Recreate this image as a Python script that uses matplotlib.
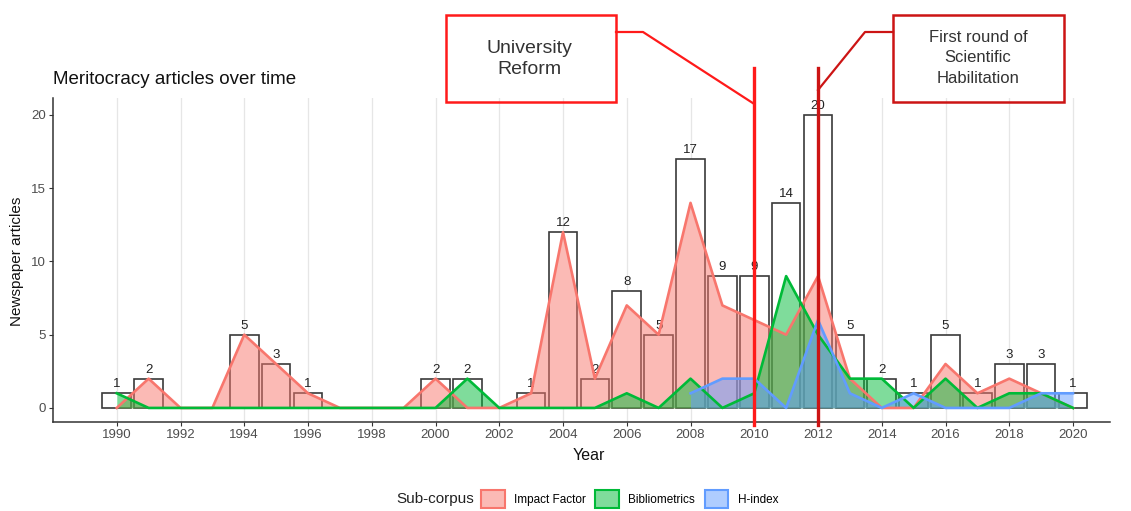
import numpy as np
import matplotlib
matplotlib.use("Agg")
import matplotlib.pyplot as plt
from matplotlib.patches import Rectangle, Patch
from matplotlib.lines import Line2D

plt.rcParams['font.family'] = ['Liberation Sans', 'DejaVu Sans']

# data
years = list(range(1990, 2021))
totals = [1, 2, 0, 0, 5, 3, 1, 0, 0, 0, 2, 2, 0, 1, 12, 2, 8, 5, 17, 9, 9, 14, 20, 5, 2, 1, 5, 1, 3, 3, 1]
impact_factor = [0, 2, 0, 0, 5, 3, 1, 0, 0, 0, 2, 0, 0, 1, 12, 2, 7, 5, 14, 7, 6, 5, 9, 2, 0, 0, 3, 1, 2, 1, 0]
bibliometrics = [1, 0, 0, 0, 0, 0, 0, 0, 0, 0, 0, 2, 0, 0, 0, 0, 1, 0, 2, 0, 1, 9, 5, 2, 2, 0, 2, 0, 1, 1, 0]
hindex_years = list(range(2008, 2021))
hindex = [1, 2, 2, 0, 6, 1, 0, 1, 0, 0, 0, 1, 1]

series_names = ["Impact Factor", "Bibliometrics", "H-index"]
series_colors = ["#F8766D", "#00BA38", "#619CFF"]

events = [2010, 2012]
event_labels = ["University\nReform", "First round of\nScientific\nHabilitation"]

W, H = 1131, 511
fig = plt.figure(figsize=(W / 100, H / 100), dpi=100)


def fx(px):
    return px / W


def fy(py):
    return 1 - py / H


ax = fig.add_axes([fx(53), fy(422), fx(1110) - fx(53), fy(98) - fy(422)])
ax.set_xlim(1988.0, 2021.16)
ax.set_ylim(-0.96, 21.16)

# grid
for x in range(1990, 2021, 2):
    ax.axvline(x, color="#e6e6e6", lw=0.9, zorder=0)

ax.bar(years, totals, width=0.9, facecolor="white", edgecolor="#3a3a3a", linewidth=1.2, zorder=2)
for x, v in zip(years, totals):
    if v > 0:
        ax.text(x, v + 0.2, str(v), ha="center", va="bottom", fontsize=9.5, color="#222222", zorder=2.5)

all_series = [(years, impact_factor), (years, bibliometrics), (hindex_years, hindex)]
for (xs, ys), c in zip(all_series, series_colors):
    ax.fill_between(xs, 0, ys, color=c, alpha=0.5, lw=0, zorder=3)
    ax.plot(xs, ys, color=c, lw=1.9, zorder=3.1)

for s in ["top", "right"]:
    ax.spines[s].set_visible(False)
for s in ["left", "bottom"]:
    ax.spines[s].set_color("#333333")
    ax.spines[s].set_linewidth(1.1)

ax.set_xticks(range(1990, 2021, 2))
ax.set_yticks([0, 5, 10, 15, 20])
ax.tick_params(axis="both", length=3, color="#333333", labelsize=9.5, labelcolor="#4d4d4d", pad=2)

fig.text(fx(53), fy(80), "Meritocracy articles over time", fontsize=13.5, color="#111111",
         ha="left", va="center")
fig.text(fx(589), fy(455), "Year", fontsize=11.5, color="#111111", ha="center", va="center")
fig.text(fx(17), fy(261), "Newspaper articles", fontsize=11, color="#111111", ha="center",
         va="center", rotation=90)

# event lines and boxes
to_fig = fig.transFigure.inverted()
ex = [to_fig.transform(ax.transData.transform((e, 0)))[0] for e in events]
event_colors = ["#ff1a1a", "#cc1414"]

for x, c in zip(ex, event_colors):
    fig.add_artist(Line2D([x, x], [fy(68), fy(425)], color=c, lw=2.4, transform=fig.transFigure, zorder=6))

boxes = [(446, 616), (893, 1064)]
for (l, r), c in zip(boxes, event_colors):
    fig.add_artist(Rectangle((fx(l), fy(102)), fx(r) - fx(l), fy(15) - fy(102), fill=False,
                             ec=c, lw=1.8, transform=fig.transFigure))

fig.add_artist(Line2D([fx(616), fx(643), ex[0]], [fy(32), fy(32), fy(104)], color=event_colors[0],
                      lw=1.6, transform=fig.transFigure))
fig.add_artist(Line2D([fx(893), fx(865), ex[1]], [fy(32), fy(32), fy(90)], color=event_colors[1],
                      lw=1.6, transform=fig.transFigure))

fig.text(fx(529), fy(59), event_labels[0], fontsize=14, color="#333333", ha="center", va="center",
         linespacing=1.3)
fig.text(fx(978), fy(58), event_labels[1], fontsize=12, color="#333333", ha="center", va="center",
         linespacing=1.45)

# legend
handles = [Patch(facecolor=matplotlib.colors.to_rgba(c, 0.5), edgecolor=c, lw=1.5) for c in series_colors]
fig.legend(handles, series_names, loc="center left", bbox_to_anchor=(fx(481), fy(499)), ncol=3,
           frameon=False, fontsize=8.5, handlelength=2.0, handleheight=2.0, handletextpad=0.8,
           columnspacing=0.8, borderpad=0, borderaxespad=0)
fig.text(fx(474), fy(499), "Sub-corpus", fontsize=11, color="#222222", ha="right", va="center")

fig.savefig("out.png", dpi=100)
